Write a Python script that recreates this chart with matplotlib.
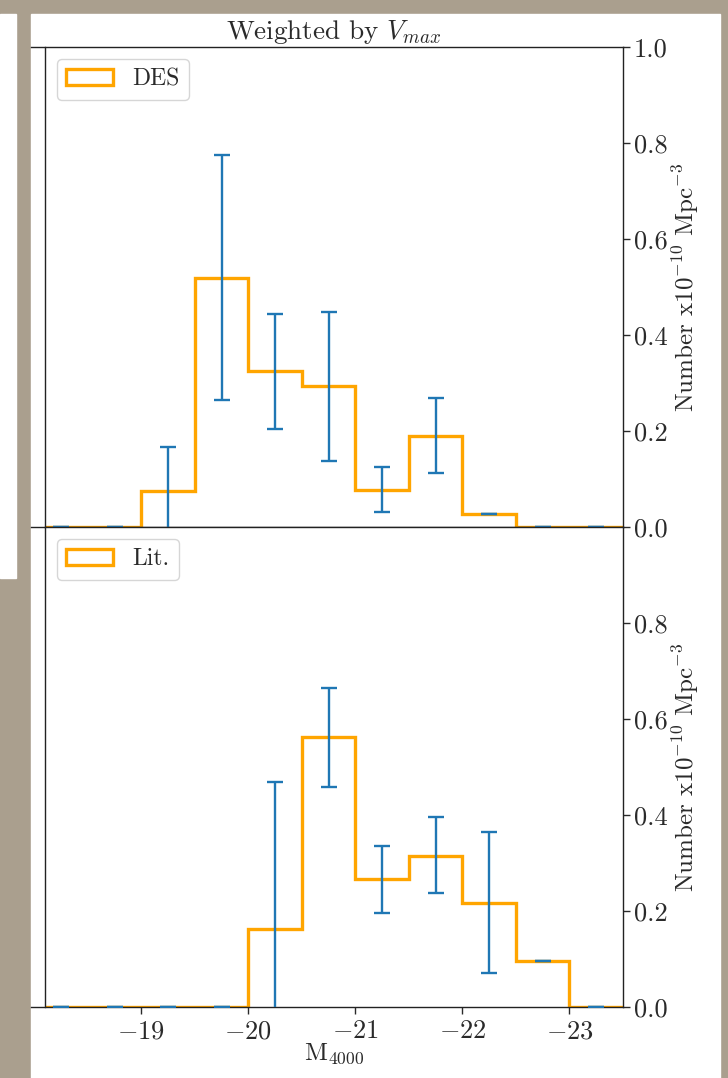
import matplotlib
matplotlib.use("Agg")
import matplotlib.pyplot as plt
from matplotlib.patches import Rectangle
import numpy as np

plt.rcParams['font.family'] = 'serif'
plt.rcParams['font.serif'] = ['cmr10']
plt.rcParams['mathtext.fontset'] = 'cm'
plt.rcParams['axes.formatter.use_mathtext'] = True
plt.rcParams['font.size'] = 17
plt.rcParams['text.color'] = '#2a2a2a'
plt.rcParams['xtick.color'] = '#2a2a2a'
plt.rcParams['ytick.color'] = '#2a2a2a'
plt.rcParams['axes.labelcolor'] = '#2a2a2a'

# magnitude bins (0.5 mag wide)
bin_edges = [-18.0, -18.5, -19.0, -19.5, -20.0, -20.5, -21.0, -21.5, -22.0, -22.5, -23.0, -23.5]
bin_centers = [-18.25, -18.75, -19.25, -19.75, -20.25, -20.75, -21.25, -21.75, -22.25, -22.75, -23.25]

# DES, weighted by Vmax
des_counts = [0, 0, 0.074, 0.518, 0.324, 0.294, 0.077, 0.190, 0.028, 0, 0]
des_err_lo = [0, 0, -0.03, 0.265, 0.205, 0.137, 0.031, 0.112, 0.028, 0, 0]
des_err_hi = [0, 0, 0.167, 0.774, 0.444, 0.448, 0.126, 0.269, 0.028, 0, 0]

# literature sample
lit_counts = [0, 0, 0, 0, 0.162, 0.5625, 0.267, 0.315, 0.217, 0.095, 0]
lit_err_lo = [0, 0, 0, 0, -0.03, 0.459, 0.196, 0.238, 0.070, 0.095, 0]
lit_err_hi = [0, 0, 0, 0, 0.469, 0.665, 0.336, 0.396, 0.365, 0.095, 0]

W, H = 728, 1078
fig = plt.figure(figsize=(W / 100, H / 100), dpi=100, facecolor='#aa9f8e')

# white screenshot areas
fig.add_artist(Rectangle((31 / W, 0), (720 - 31) / W, (H - 14) / H,
                         transform=fig.transFigure, color='white', zorder=0))
fig.add_artist(Rectangle((0, 1 - 578 / H), 16 / W, (578 - 14) / H,
                         transform=fig.transFigure, color='white', zorder=0))

left = 45 / W
width = (623 - 45) / W
ax1 = fig.add_axes([left, 1 - 527 / H, width, 480 / H])
ax2 = fig.add_axes([left, 1 - 1007 / H, width, 480 / H])

panels = [
    (ax1, des_counts, des_err_lo, des_err_hi, 'DES', [0, 0.2, 0.4, 0.6, 0.8, 1.0]),
    (ax2, lit_counts, lit_err_lo, lit_err_hi, 'Lit.', [0, 0.2, 0.4, 0.6, 0.8]),
]

for ax, counts, lo, hi, name, yt in panels:
    counts = np.array(counts)
    ax.hist(bin_centers, bins=sorted(bin_edges), weights=counts, histtype='step',
            color='orange', linewidth=2.4, label=name, zorder=2)
    ax.errorbar(bin_centers, counts,
                yerr=[counts - np.array(lo), np.array(hi) - counts],
                fmt='none', ecolor='#1f77b4', elinewidth=1.7,
                capsize=5.5, capthick=1.7, zorder=3)
    ax.set_xlim(-18.1, -23.5)
    ax.set_ylim(0, 1)
    ax.set_yticks(yt)
    ax.set_yticklabels(['%.1f' % v for v in yt])
    ax.yaxis.tick_right()
    ax.yaxis.set_label_position('right')
    ax.set_ylabel(r'Number x10$^{-10}$ Mpc$^{-3}$', fontsize=18, labelpad=2)
    ax.tick_params(axis='y', direction='out', length=5, width=1, pad=3, labelsize=19)
    for s in ax.spines.values():
        s.set_linewidth(1.0)
        s.set_color('#222222')
    ax.legend(loc='upper left', fancybox=True, framealpha=0.8, handlelength=2.0)

ax1.tick_params(axis='x', bottom=False, labelbottom=False)
ax1.spines['top'].set_bounds(-17.97, -23.5)
ax1.spines['bottom'].set_bounds(-17.97, -23.5)
ax2.spines['bottom'].set_bounds(-17.97, -23.5)

ax2.set_xticks([-19, -20, -21, -22, -23])
ax2.tick_params(axis='x', direction='out', length=5, width=1, pad=4, labelsize=19)
ax2.set_xlabel(r'M$_{4000}$', fontsize=18, labelpad=-1)

ax1.set_title(r'Weighted by $V_{max}$', fontsize=19.5, pad=6)

fig.savefig('out.png', dpi=100, facecolor=fig.get_facecolor())
